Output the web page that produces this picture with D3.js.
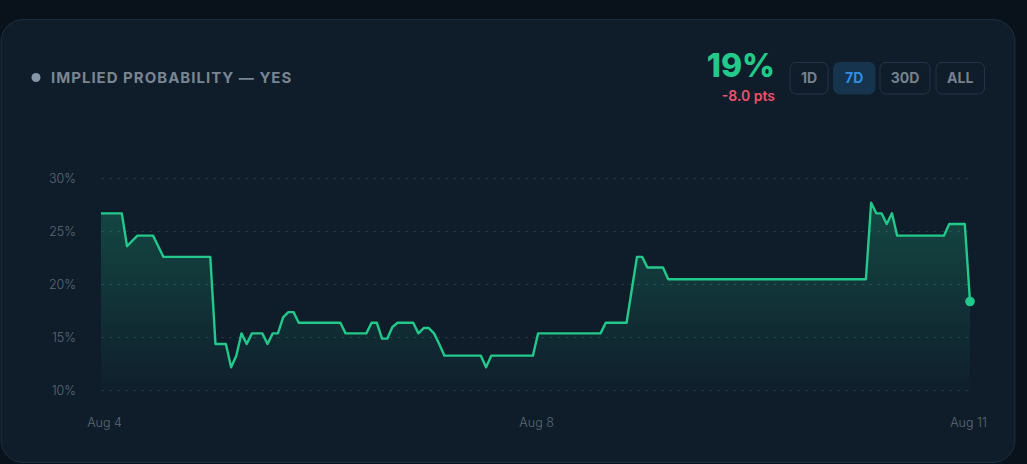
<!DOCTYPE html>
<html lang="en">
<head>
    <meta charset="UTF-8">
    <title>implied probability</title>
    <script src="https://d3js.org/d3.v7.min.js"></script>
    <style>
    html, body {
        margin: 0;
        padding: 0;
        background: #09111b;
        overflow: hidden;
    }
    text {
        font-family: "Inter", "Noto Sans", sans-serif;
    }
    </style>
</head>
<body>
<div id="chart"></div>
<script>

    // hourly samples, Aug 4 -> Aug 11 (percent)
    var values = [
        26.7, 26.7, 26.7, 26.7, 26.7, 23.6, 24.1, 24.6, 24.6, 24.6,
        24.6, 23.6, 22.6, 22.6, 22.6, 22.6, 22.6, 22.6, 22.6, 22.6,
        22.6, 22.6, 14.4, 14.4, 14.4, 12.2, 13.3, 15.4, 14.4, 15.4,
        15.4, 15.4, 14.4, 15.4, 15.4, 16.9, 17.4, 17.4, 16.4, 16.4,
        16.4, 16.4, 16.4, 16.4, 16.4, 16.4, 16.4, 15.4, 15.4, 15.4,
        15.4, 15.4, 16.4, 16.4, 14.9, 14.9, 16.0, 16.4, 16.4, 16.4,
        16.4, 15.4, 15.9, 15.9, 15.4, 14.4, 13.3, 13.3, 13.3, 13.3,
        13.3, 13.3, 13.3, 13.3, 12.2, 13.3, 13.3, 13.3, 13.3, 13.3,
        13.3, 13.3, 13.3, 13.3, 15.4, 15.4, 15.4, 15.4, 15.4, 15.4,
        15.4, 15.4, 15.4, 15.4, 15.4, 15.4, 15.4, 16.4, 16.4, 16.4,
        16.4, 16.4, 19.5, 22.6, 22.6, 21.6, 21.6, 21.6, 21.6, 20.5,
        20.5, 20.5, 20.5, 20.5, 20.5, 20.5, 20.5, 20.5, 20.5, 20.5,
        20.5, 20.5, 20.5, 20.5, 20.5, 20.5, 20.5, 20.5, 20.5, 20.5,
        20.5, 20.5, 20.5, 20.5, 20.5, 20.5, 20.5, 20.5, 20.5, 20.5,
        20.5, 20.5, 20.5, 20.5, 20.5, 20.5, 20.5, 20.5, 27.7, 26.7,
        26.7, 25.7, 26.7, 24.6, 24.6, 24.6, 24.6, 24.6, 24.6, 24.6,
        24.6, 24.6, 24.6, 25.7, 25.7, 25.7, 25.7, 18.4
    ];

    var yTicks = [10, 15, 20, 25, 30];
    var xTickIndex = [0, 84, 167];
    var xTickLabels = ["Aug 4", "Aug 8", "Aug 11"];
    var ranges = ["1D", "7D", "30D", "ALL"];
    var activeRange = "7D";

    var title = "IMPLIED PROBABILITY \u2014 YES";
    var current = "19%";
    var change = "-8.0 pts";

    var W = 1027, H = 464;
    var green = "#22c98a";

    var svg = d3.select("#chart").append("svg")
        .attr("width", W)
        .attr("height", H);

    // card
    svg.append("rect")
        .attr("x", 1).attr("y", 19.5)
        .attr("width", 1014).attr("height", 443)
        .attr("rx", 22)
        .attr("fill", "#0f1d2b")
        .attr("stroke", "#1b2e41")
        .attr("stroke-width", 1);

    // header
    svg.append("circle")
        .attr("cx", 36).attr("cy", 77.5).attr("r", 4.5)
        .attr("fill", "#8795a8");
    svg.append("text")
        .attr("x", 51).attr("y", 83)
        .attr("fill", "#7a8592")
        .attr("font-size", 15)
        .attr("font-weight", 700)
        .attr("letter-spacing", 1.0)
        .text(title);

    svg.append("text")
        .attr("x", 775).attr("y", 76.5)
        .attr("text-anchor", "end")
        .attr("fill", green)
        .attr("font-size", 32)
        .attr("font-weight", 800)
        .text(current);
    svg.append("text")
        .attr("x", 775).attr("y", 100.5)
        .attr("text-anchor", "end")
        .attr("fill", "#f0506a")
        .attr("font-size", 14)
        .attr("font-weight", 600)
        .text(change);

    // range buttons
    var btnX = [790, 833.5, 880, 936];
    var btnW = [38, 41.5, 50, 48.5];
    var btn = svg.selectAll("g.btn").data(ranges).enter().append("g")
        .attr("class", "btn")
        .attr("transform", function(d, i) { return "translate(" + btnX[i] + ",62.5)"; });
    btn.append("rect")
        .attr("width", function(d, i) { return btnW[i]; })
        .attr("height", 31.5)
        .attr("rx", 6)
        .attr("fill", function(d) { return d === activeRange ? "#16344d" : "#0f1d2b"; })
        .attr("stroke", function(d) { return d === activeRange ? "#16344d" : "#223447"; });
    btn.append("text")
        .attr("x", function(d, i) { return btnW[i] / 2; })
        .attr("y", 20.5)
        .attr("text-anchor", "middle")
        .attr("font-size", 14)
        .attr("font-weight", 700)
        .attr("fill", function(d) { return d === activeRange ? "#2b8fe3" : "#77818d"; })
        .text(function(d) { return d; });

    // scales
    var x = d3.scaleLinear().domain([0, values.length - 1]).range([101, 970]);
    var y = d3.scaleLinear().domain([10, 30]).range([390.7, 178.3]);

    // grid
    svg.append("g").selectAll("line").data(yTicks).enter().append("line")
        .attr("x1", 101).attr("x2", 968)
        .attr("y1", function(d) { return y(d); })
        .attr("y2", function(d) { return y(d); })
        .attr("stroke", "#23374a")
        .attr("stroke-width", 1)
        .attr("stroke-dasharray", "3,5");

    var yAxis = svg.append("g")
        .attr("transform", "translate(76,0)")
        .call(d3.axisLeft(y).tickValues(yTicks).tickSize(0).tickPadding(0)
            .tickFormat(function(d) { return d + "%"; }));
    yAxis.select(".domain").remove();
    yAxis.selectAll("text")
        .attr("fill", "#5c6875")
        .attr("font-size", 12.5)
        .attr("font-weight", 300)
        .attr("font-family", "Inter, sans-serif");

    var xAxis = svg.append("g")
        .attr("transform", "translate(0,418)")
        .call(d3.axisBottom(x).tickValues(xTickIndex).tickSize(0).tickPadding(0)
            .tickFormat(function(d, i) { return xTickLabels[i]; }));
    xAxis.select(".domain").remove();
    xAxis.selectAll("text")
        .attr("fill", "#5c6875")
        .attr("font-size", 12.5)
        .attr("font-weight", 300)
        .attr("font-family", "Inter, sans-serif");
    xAxis.selectAll(".tick:last-child text").attr("dx", -2);
    xAxis.selectAll(".tick:nth-child(2) text").attr("dx", -2);
    xAxis.selectAll(".tick:first-child text").attr("dx", 3);

    // area gradient
    var grad = svg.append("defs").append("linearGradient")
        .attr("id", "fade")
        .attr("gradientUnits", "userSpaceOnUse")
        .attr("x1", 0).attr("x2", 0)
        .attr("y1", y(27)).attr("y2", y(10));
    grad.append("stop").attr("offset", "0%").attr("stop-color", green).attr("stop-opacity", 0.24);
    grad.append("stop").attr("offset", "100%").attr("stop-color", green).attr("stop-opacity", 0.01);

    var area = d3.area()
        .x(function(d, i) { return x(i); })
        .y0(y(10))
        .y1(function(d) { return y(d); });

    var line = d3.line()
        .x(function(d, i) { return x(i); })
        .y(function(d) { return y(d); });

    svg.append("path")
        .datum(values)
        .attr("d", area)
        .attr("fill", "url(#fade)");

    svg.append("path")
        .datum(values)
        .attr("d", line)
        .attr("fill", "none")
        .attr("stroke", green)
        .attr("stroke-width", 2.4)
        .attr("stroke-linejoin", "round");

    svg.append("circle")
        .attr("cx", x(values.length - 1))
        .attr("cy", y(values[values.length - 1]))
        .attr("r", 4.8)
        .attr("fill", green);

</script>
</body>
</html>
